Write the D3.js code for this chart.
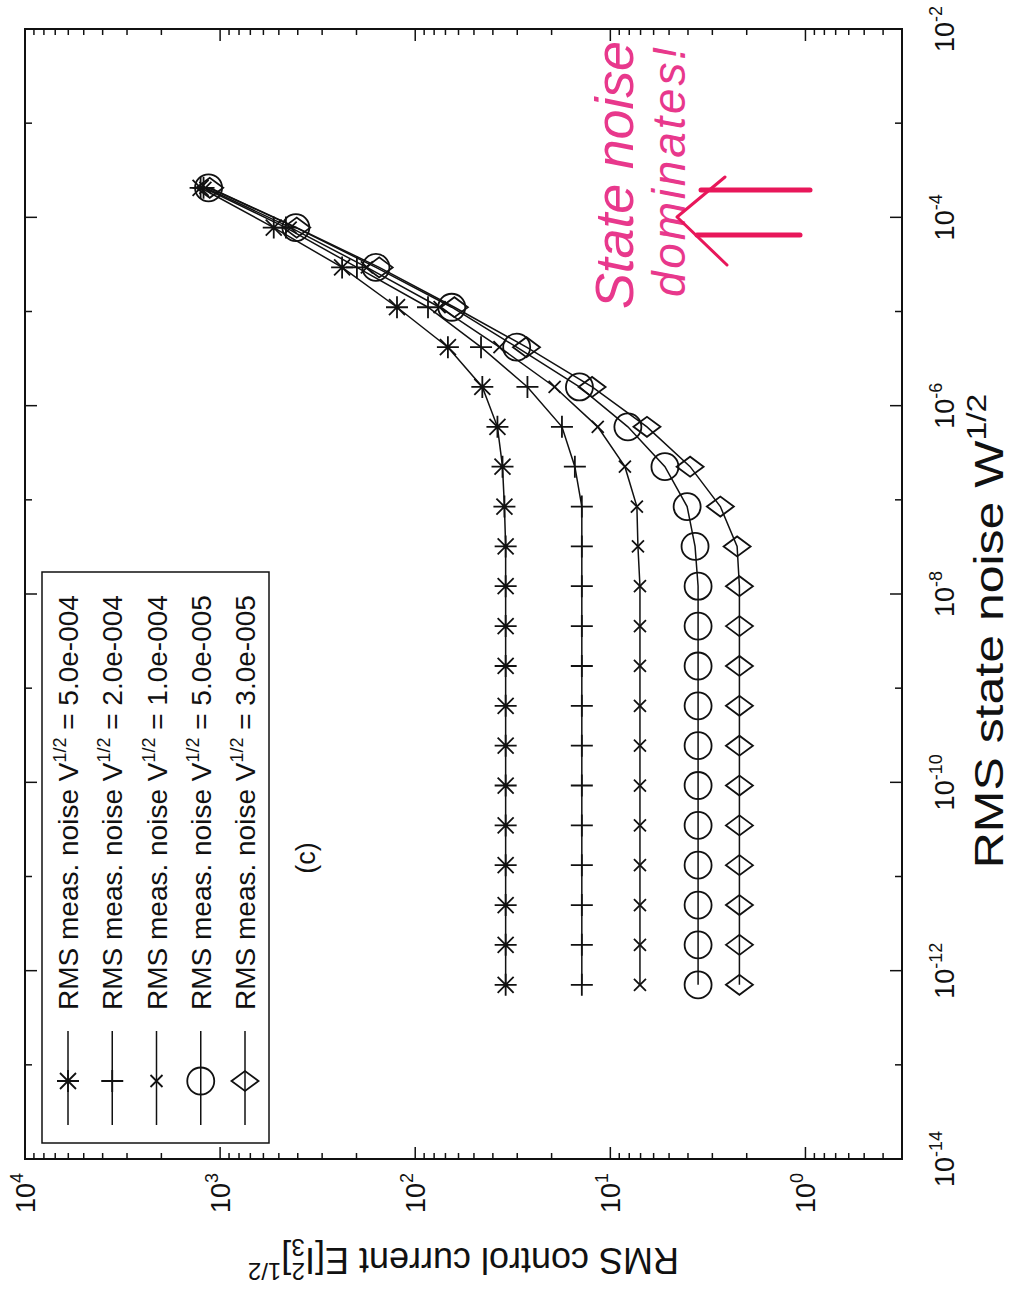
<!DOCTYPE html>
<html lang="en">
<head>
<meta charset="UTF-8">
<title>RMS control current vs state noise</title>
<script src="https://d3js.org/d3.v7.min.js"></script>
<style>
  body { margin: 0; background: #fff; }
  svg { font-family: "Liberation Sans", Arial, Helvetica, sans-serif; }
  .series { fill: none; stroke: #111; stroke-width: 1.5; }
  .mark { fill: none; stroke: #111; stroke-width: 1.8; }
</style>
</head>
<body>
<svg width="1018" height="1297"></svg>
<script>
// RMS state noise W^1/2 (x values, shared by all runs)
var stateNoise = [7.08e-13, 1.88e-12, 4.97e-12, 1.32e-11, 3.49e-11, 9.25e-11, 2.45e-10,
  6.49e-10, 1.72e-9, 4.56e-9, 1.21e-8, 3.20e-8, 8.48e-8, 2.25e-7, 5.96e-7, 1.58e-6,
  4.18e-6, 1.11e-5, 2.94e-5, 7.78e-5, 2.06e-4];

// RMS control current for each measurement noise level
var meas5e4 = [34.4, 34.4, 34.4, 34.4, 34.4, 34.4, 34.4, 34.4, 34.4, 34.4, 34.4, 34.4,
  34.9, 35.7, 37.9, 45.3, 68, 124, 237, 531, 1259];
var meas2e4 = [14.0, 14.0, 14.0, 14.0, 14.0, 14.0, 14.0, 14.0, 14.0, 14.0, 14.0, 14.0,
  14.0, 15.2, 17.7, 26.6, 46, 86, 199, 460, 1216];
var meas1e4 = [7.05, 7.05, 7.05, 7.05, 7.05, 7.05, 7.05, 7.05, 7.05, 7.05, 7.05, 7.22,
  7.31, 8.42, 11.6, 19.3, 37, 75, 177, 435, 1190];
var meas5e5 = [3.55, 3.55, 3.55, 3.55, 3.55, 3.55, 3.55, 3.55, 3.55, 3.55, 3.55, 3.68,
  4.04, 5.25, 8.13, 14.4, 30.2, 65, 159, 409, 1146];
var meas3e5 = [2.18, 2.18, 2.18, 2.18, 2.18, 2.18, 2.18, 2.18, 2.18, 2.18, 2.18, 2.24,
  2.73, 3.90, 6.49, 12.4, 26.9, 63, 153, 405, 1130];

var legendValues = ["5.0e-004", "2.0e-004", "1.0e-004", "5.0e-005", "3.0e-005"];
var markerTypes = ["asterisk", "plus", "cross", "circle", "diamond"];

var xTicks = [-14, -12, -10, -8, -6, -4, -2];     // labelled decades
var yTicks = [0, 1, 2, 3, 4];

var series = [meas5e4, meas2e4, meas1e4, meas5e5, meas3e5];

// the chart is drawn upright and then turned a quarter turn, as in the scan
var plotW = 1130, plotH = 877;
var svg = d3.select("svg");
var g = svg.append("g").attr("transform", "translate(25,1159) rotate(-90)");

var x = d3.scaleLog().domain([1e-14, 1e-2]).range([0, plotW]);
var y = d3.scaleLog().domain([0.32, 1e4]).range([plotH, 0]);

function markerPath(type) {
  var p = d3.path();
  if (type === "asterisk" || type === "plus") {
    p.moveTo(-11, 0); p.lineTo(11, 0); p.moveTo(0, -11); p.lineTo(0, 11);
  }
  if (type === "asterisk") {
    p.moveTo(-8, -8); p.lineTo(8, 8); p.moveTo(-8, 8); p.lineTo(8, -8);
  }
  if (type === "cross") {
    p.moveTo(-6, -6); p.lineTo(6, 6); p.moveTo(-6, 6); p.lineTo(6, -6);
  }
  if (type === "circle") {
    p.moveTo(13.5, 0); p.arc(0, 0, 13.5, 0, 2 * Math.PI);
  }
  if (type === "diamond") {
    p.moveTo(0, -13.5); p.lineTo(10, 0); p.lineTo(0, 13.5); p.lineTo(-10, 0); p.closePath();
  }
  return p.toString();
}

// frame
g.append("rect").attr("width", plotW).attr("height", plotH)
  .attr("fill", "none").attr("stroke", "#111").attr("stroke-width", 2);

// x ticks (every decade, long on the labelled ones)
var xDecades = d3.range(-14, -1);
xDecades.forEach(function (e) {
  var len = (e % 2 === 0) ? 12 : 7;
  var xp = x(Math.pow(10, e));
  g.append("line").attr("x1", xp).attr("x2", xp).attr("y1", plotH).attr("y2", plotH - len)
    .attr("stroke", "#111").attr("stroke-width", 1.5);
  g.append("line").attr("x1", xp).attr("x2", xp).attr("y1", 0).attr("y2", len)
    .attr("stroke", "#111").attr("stroke-width", 1.5);
});

// y ticks, decades and minor
var yMinor = [];
for (var d = -1; d <= 3; d++) {
  for (var k = 1; k <= 9; k++) {
    var v = k * Math.pow(10, d);
    if (v >= 0.32 && v <= 1e4) yMinor.push(v);
  }
}
yMinor.push(1e4);
yMinor.forEach(function (v) {
  var major = Math.abs(Math.log10(v) - Math.round(Math.log10(v))) < 1e-9;
  var len = major ? 12 : 6;
  var yp = y(v);
  g.append("line").attr("x1", 0).attr("x2", len).attr("y1", yp).attr("y2", yp)
    .attr("stroke", "#111").attr("stroke-width", 1.5);
  g.append("line").attr("x1", plotW).attr("x2", plotW - len).attr("y1", yp).attr("y2", yp)
    .attr("stroke", "#111").attr("stroke-width", 1.5);
});

function powerLabel(sel, e) {
  sel.append("tspan").text("10");
  sel.append("tspan").attr("font-size", 18).attr("dy", -12).text(e);
}

xTicks.forEach(function (e) {
  var t = g.append("text").attr("x", x(Math.pow(10, e))).attr("y", plotH + 52)
    .attr("text-anchor", "middle").attr("font-size", 27).attr("fill", "#111");
  powerLabel(t, e);
});

yTicks.forEach(function (e) {
  var t = g.append("text").attr("x", -14).attr("y", y(Math.pow(10, e)) + 10)
    .attr("text-anchor", "end").attr("font-size", 27).attr("fill", "#111");
  powerLabel(t, e);
});

// axis labels (the scan is a little stretched along the state-noise axis)
var xl = g.append("text").attr("transform", "translate(528," + (plotH + 101) + ") scale(1.25,1)")
  .attr("text-anchor", "middle").attr("font-size", 40).attr("fill", "#111");
xl.append("tspan").text("RMS state noise W");
xl.append("tspan").attr("font-size", 27).attr("dy", -17).text("1/2");

var yl = g.append("text").attr("transform", "translate(-89," + (plotH / 2) + ") rotate(-90)")
  .attr("text-anchor", "middle").attr("font-size", 36).attr("fill", "#111");
yl.append("tspan").text("RMS control current E[I");
yl.append("tspan").attr("font-size", 24).attr("dy", -15).text("2");
yl.append("tspan").attr("font-size", 24).attr("dx", -13).attr("dy", 24).text("3");
yl.append("tspan").attr("dy", -9).text("]");
yl.append("tspan").attr("font-size", 24).attr("dy", -15).text("1/2");

// series
var line = d3.line()
  .x(function (d, i) { return x(stateNoise[i]); })
  .y(function (d) { return y(d); });

series.forEach(function (vals, s) {
  g.append("path").attr("class", "series").attr("d", line(vals));
  g.selectAll(".m" + s).data(vals).enter().append("path")
    .attr("class", "mark m" + s)
    .attr("transform", function (d, i) { return "translate(" + x(stateNoise[i]) + "," + y(d) + ")"; })
    .attr("d", markerPath(markerTypes[s]));
});

// legend
var lg = g.append("g");
lg.append("rect").attr("x", 16).attr("y", 17).attr("width", 571).attr("height", 227)
  .attr("fill", "#fff").attr("stroke", "#111").attr("stroke-width", 1.5);
var rowY = d3.scalePoint().domain(d3.range(5)).range([43, 220]);
legendValues.forEach(function (lab, i) {
  var ry = rowY(i);
  lg.append("line").attr("x1", 34).attr("x2", 128).attr("y1", ry).attr("y2", ry)
    .attr("stroke", "#111").attr("stroke-width", 1.5);
  lg.append("path").attr("class", "mark").attr("transform", "translate(78," + ry + ")")
    .attr("d", markerPath(markerTypes[i]));
  var t = lg.append("text").attr("x", 149).attr("y", ry + 10).attr("font-size", 28).attr("fill", "#111");
  t.append("tspan").text("RMS meas. noise V");
  t.append("tspan").attr("font-size", 18).attr("dy", -12).text("1/2");
  t.append("tspan").attr("dy", 12).text(" = " + lab);
});

// panel tag
g.append("text").attr("x", 301).attr("y", 290).attr("text-anchor", "middle")
  .attr("font-size", 27).attr("fill", "#111").text("(c)");

// handwritten note in pink
var note = g.append("g").attr("fill", "#e8388c");
note.append("text").attr("x", 850).attr("y", 608).attr("font-size", 54)
  .attr("font-style", "italic").attr("textLength", 268).text("State noise");
note.append("text").attr("x", 862).attr("y", 660).attr("font-size", 46)
  .attr("font-style", "italic").attr("textLength", 250).text("dominates!");
var arrow = g.append("g").attr("stroke", "#e8175a").attr("fill", "none")
  .attr("stroke-linecap", "round").attr("stroke-linejoin", "round");
arrow.append("line").attr("x1", 969).attr("x2", 969).attr("y1", 785).attr("y2", 676).attr("stroke-width", 5);
arrow.append("line").attr("x1", 924).attr("x2", 924).attr("y1", 775).attr("y2", 672).attr("stroke-width", 5);
arrow.append("polyline").attr("points", "894,702 942,652 982,700").attr("stroke-width", 3);
</script>
</body>
</html>
